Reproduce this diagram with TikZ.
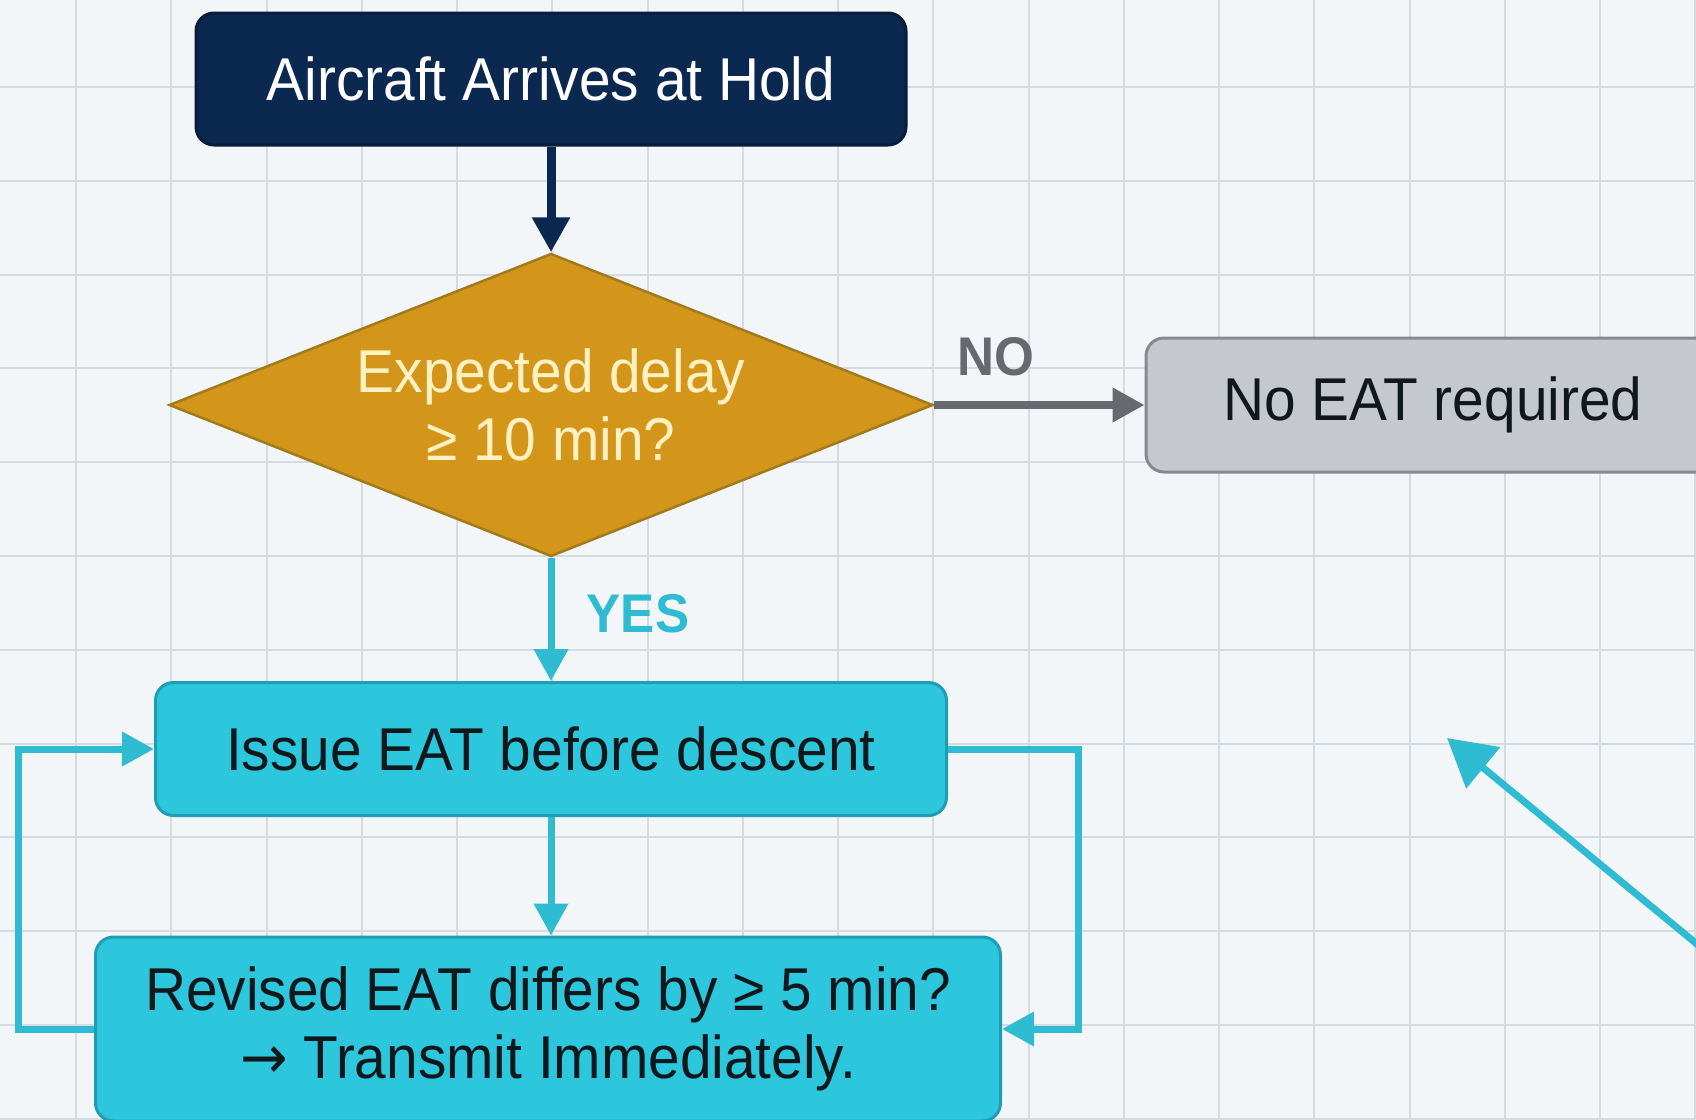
\documentclass[tikz,border=0pt]{standalone}
\usepackage{fontspec}
\setmainfont{Liberation Sans}[FakeStretch=0.94]
\newfontfamily\arrowfont{DejaVu Sans}[FakeStretch=0.94]
\usepackage{xcolor}
\usepackage{tikz}
\usetikzlibrary{arrows.meta}
\usetikzlibrary{shapes.geometric}

\definecolor{paper}{HTML}{F2F6F8}
\definecolor{gridgrey}{HTML}{D6DBDF}
\definecolor{navy}{HTML}{0B2850}
\definecolor{navydark}{HTML}{081D3B}
\definecolor{gold}{HTML}{D4961A}
\definecolor{golddark}{HTML}{A07A1C}
\definecolor{cream}{HTML}{FFF1C1}
\definecolor{greyfill}{HTML}{C5C8CE}
\definecolor{greyline}{HTML}{86898E}
\definecolor{greyarrow}{HTML}{67696E}
\definecolor{cyanfill}{HTML}{2DC7DD}
\definecolor{cyanline}{HTML}{1E9DB3}
\definecolor{cyanarrow}{HTML}{2FBCD3}
\definecolor{inkdark}{HTML}{10181C}

\newcommand{\boxfont}{\fontsize{17.2}{19.35}\selectfont}
\newcommand{\tagfont}{\fontsize{15.5}{18}\selectfont\bfseries}

\tikzset{
    box/.style = {align=center, inner sep=0pt, text centered, rounded corners=1.8mm, font=\boxfont},
    dark_node/.style = {box, fill=navy, draw=navydark, line width=0.3mm, text=white, minimum width=71mm, minimum height=13.2mm},
    gold_node/.style = {align=center, inner sep=0pt, text centered, font=\boxfont, diamond, aspect=2.52, fill=gold, draw=golddark, line width=0.25mm, text=cream, minimum width=76.4mm, minimum height=30.3mm},
    grey_node/.style = {box, fill=greyfill, draw=greyline, line width=0.3mm, text=inkdark, minimum width=57.4mm, minimum height=13.4mm},
    cyan_node/.style = {box, fill=cyanfill, draw=cyanline, line width=0.3mm, text=inkdark, minimum width=79.1mm, minimum height=13.3mm},
    no_label/.style = {inner sep=0pt, font=\tagfont, text=greyarrow},
    yes_label/.style = {inner sep=0pt, font=\tagfont, text=cyanarrow},
    navy_arrow/.style = {->, navy, line width=0.9mm, >={Triangle[length=3.5mm, width=3.6mm]}},
    grey_arrow/.style = {->, greyarrow, line width=0.75mm, >={Triangle[length=3.2mm, width=3.3mm]}},
    cyan_arrow/.style = {->, cyanarrow, line width=0.7mm, >={Triangle[length=3.2mm, width=3.3mm]}},
    grid_line/.style = {gridgrey, line width=0.2mm}
}

\begin{document}
\begin{tikzpicture}
    [x=0.1mm, y=-0.1mm]

    % paper with grid
    \fill [paper] (0,0) rectangle (1696,1119);
    \clip (0,0) rectangle (1696,1119);
    \foreach \gx in {0,...,17}
        \draw [grid_line] ({76+95.25*\gx},0) -- ({76+95.25*\gx},1119);
    \foreach \gy in {0,...,11}
        \draw [grid_line] (0,{87+93.8*\gy}) -- (1696,{87+93.8*\gy});

    % boxes
    \node [dark_node] (arrive) at (551,79) {Aircraft Arrives at Hold};
    \node [gold_node] (delay) at (551,405) {Expected delay\\≥ 10 min?};
    \node [grey_node] (no_eat) at (1433,405) {No EAT required};
    \node [cyan_node] (issue) at (551,749) {Issue EAT before descent};
    \node [cyan_node, minimum width=90.5mm, minimum height=18.4mm] (revise) at (548,1029)
        {Revised EAT differs by ≥ 5 min?\\{\arrowfont →} Transmit Immediately.};

    % labels
    \node [no_label] (no_text) at (996,357) {NO};
    \node [yes_label] (yes_text) at (638,614) {YES};

    % connectors
    \draw [navy_arrow] (arrive.south) -- (delay.north);
    \draw [grey_arrow] (delay.east) -- (no_eat.west);
    \draw [cyan_arrow] (delay.south) -- (issue.north);
    \draw [cyan_arrow] (issue.south) -- (issue.south |- revise.north);
    \draw [cyan_arrow] (revise.west) -- ++(-76,0) |- (issue.west);
    \draw [cyan_arrow] (issue.east) -- ++(130,0) |- (revise.east);

    \coordinate (diag_tail) at (1766,1001);
    \coordinate (diag_head) at (1447,738);
    \draw [cyan_arrow, >={Triangle[length=4.7mm, width=5.2mm]}] (diag_tail) -- (diag_head);
\end{tikzpicture}
\end{document}
